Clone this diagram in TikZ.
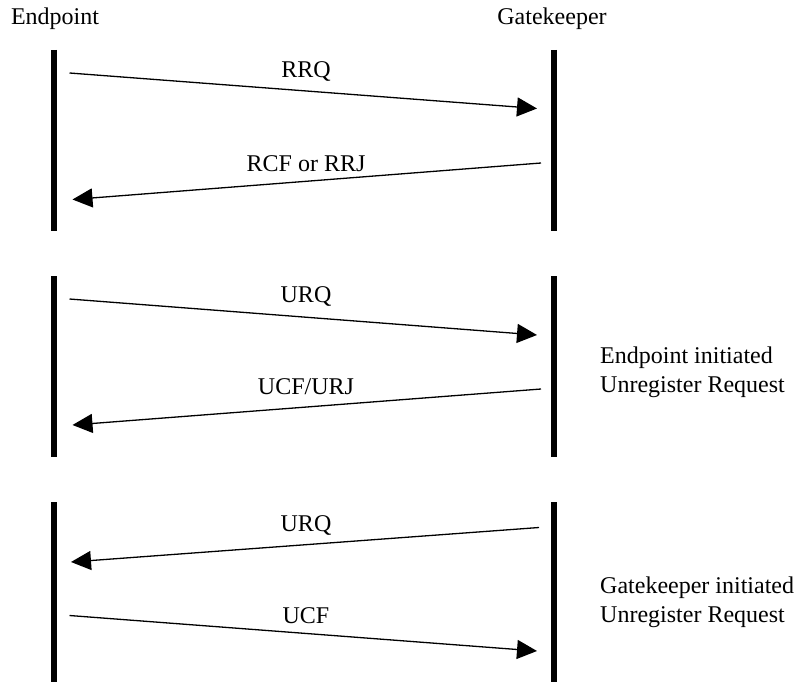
\documentclass[tikz,border=0pt]{standalone}
\usepackage{fontspec}
\setmainfont{Liberation Serif}
\usetikzlibrary{arrows.meta}

\begin{document}
\begin{tikzpicture}[x=1bp, y=-1bp]
	\tikzset{
		lifeline/.style = {line width=6bp},
		msg/.style = {line width=1.3bp, -{Triangle[length=20bp, width=19bp]}},
		lbl/.style = {anchor=base, inner sep=0pt, font=\fontsize{24bp}{29bp}\selectfont},
		note/.style = {anchor=west, align=left, inner sep=0pt, font=\fontsize{24bp}{29bp}\selectfont}
	}
	\useasboundingbox (0,0) rectangle (795,682);
	% lifelines, one pair per exchange
	\foreach \ty in {50, 276, 502} {
		\draw[lifeline] (54,\ty) -- ++(0,181);
		\draw[lifeline] (554,\ty) -- ++(0,181);
	}
	\node[lbl] (ep) at (55,25) {Endpoint};
	\node[lbl] (gk) at (552,25) {Gatekeeper};
	% message ends
	\coordinate (rrq-a) at (69.5,73);
	\coordinate (rrq-b) at (537,108.5);
	\coordinate (rcf-a) at (541,163);
	\coordinate (rcf-b) at (72.5,199.5);
	\coordinate (urq1-a) at (69.5,299);
	\coordinate (urq1-b) at (537,335);
	\coordinate (ucf1-a) at (541,389);
	\coordinate (ucf1-b) at (72.5,425);
	\coordinate (urq2-a) at (539,527.5);
	\coordinate (urq2-b) at (71,562);
	\coordinate (ucf2-a) at (69.5,615.5);
	\coordinate (ucf2-b) at (537,651);
	\draw[msg] (rrq-a) -- (rrq-b);
	\draw[msg] (rcf-a) -- (rcf-b);
	\draw[msg] (urq1-a) -- (urq1-b);
	\draw[msg] (ucf1-a) -- (ucf1-b);
	\draw[msg] (urq2-a) -- (urq2-b);
	\draw[msg] (ucf2-a) -- (ucf2-b);
	% message names
	\node[lbl] (rrq) at (306,78) {RRQ};
	\node[lbl] (rcf) at (306,171) {RCF or RRJ};
	\node[lbl] (urq1) at (306,302) {URQ};
	\node[lbl] (ucf1) at (306,394) {UCF/URJ};
	\node[lbl] (urq2) at (306,531) {URQ};
	\node[lbl] (ucf2) at (306,623) {UCF};
	% side notes
	\node[note] (epinit) at (600,372) {Endpoint initiated\\Unregister Request};
	\node[note] (gkinit) at (600,602) {Gatekeeper initiated\\Unregister Request};
\end{tikzpicture}
\end{document}
